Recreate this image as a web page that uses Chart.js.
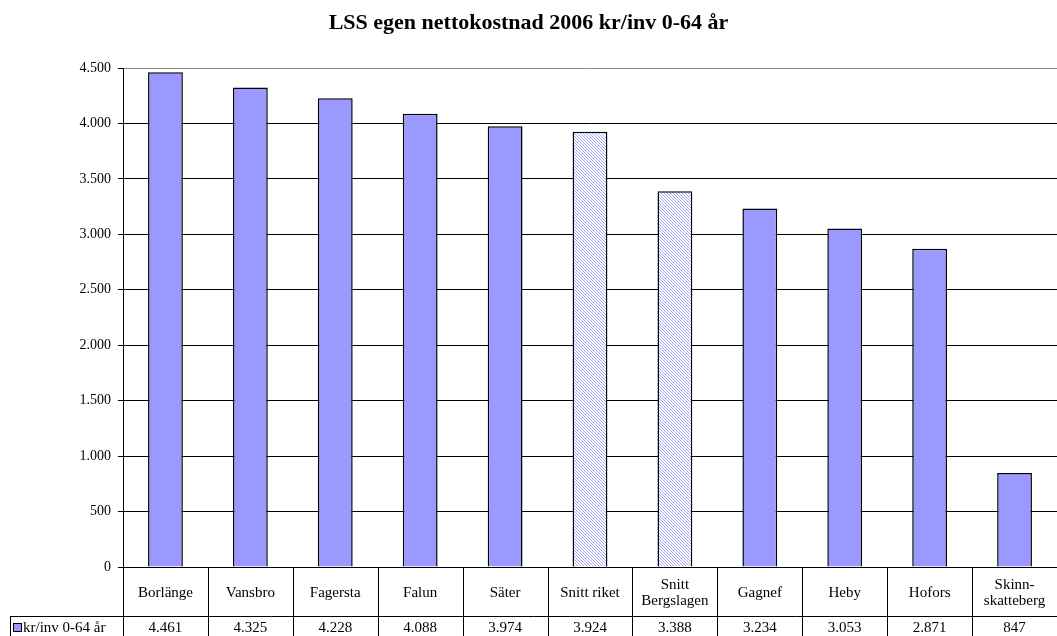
<!DOCTYPE html>
<html lang="sv">
<head>
<meta charset="utf-8">
<title>LSS egen nettokostnad 2006</title>
<script src="https://cdn.jsdelivr.net/npm/chart.js@4/dist/chart.umd.min.js"></script>
<style>
  html, body { margin: 0; padding: 0; background: #fff; overflow: hidden; }
  #wrap { width: 1057px; height: 636px; }
</style>
</head>
<body>
<div id="wrap"><canvas id="lssChart" width="1057" height="636"></canvas></div>
<script>
// Kommuner och jämförelsesnitt (flerradiga etiketter i tabellen)
const kommuner = [
    ['Borlänge'], ['Vansbro'], ['Fagersta'], ['Falun'], ['Säter'],
    ['Snitt riket'], ['Snitt', 'Bergslagen'], ['Gagnef'], ['Heby'], ['Hofors'],
    ['Skinn-', 'skatteberg']
];
// kr/inv 0-64 år
const kostnad = [4461, 4325, 4228, 4088, 3974, 3924, 3388, 3234, 3053, 2871, 847];
// snitt-staplarna ritas randiga
const snittIndex = [5, 6];
const yMin = 0;
const yMax = 4500;
const yStep = 500;

const serieNamn = 'kr/inv 0-64 år';
const FONT = '"Liberation Serif", "DejaVu Serif", serif';
const BAR_COLOR = '#9999ff';

// tusentalsavgränsare med punkt, t.ex. 4.461
function formatNum(v) {
    return String(v).replace(/\B(?=(\d{3})+(?!\d))/g, '.');
}

// randigt mönster för snitt-staplarna
function makeHatch() {
    const c = document.createElement('canvas');
    c.width = 3;
    c.height = 3;
    const g = c.getContext('2d');
    g.fillStyle = '#ffffff';
    g.fillRect(0, 0, 3, 3);
    g.fillStyle = '#a6a6ff';
    for (let i = 0; i < 3; i++) {
        g.fillRect(i, i, 1, 1);
    }
    return g.createPattern(c, 'repeat');
}
const hatch = makeHatch();

const barColors = kostnad.map((v, i) => snittIndex.includes(i) ? hatch : BAR_COLOR);

// datatabell under x-axeln
const dataTable = {
    id: 'dataTable',
    afterDraw(chart) {
        const ctx = chart.ctx;
        const area = chart.chartArea;
        const n = kommuner.length;
        const catW = (area.right - area.left) / n;
        const top = Math.round(area.bottom);
        const rowLine = top + 49;
        const bottom = chart.height;
        const tableLeft = 10;

        ctx.save();
        ctx.strokeStyle = '#000';
        ctx.lineWidth = 1;
        ctx.beginPath();
        for (let i = 0; i <= n; i++) {
            const x = Math.round(area.left + i * catW) + 0.5;
            ctx.moveTo(x, top);
            ctx.lineTo(x, bottom);
        }
        ctx.moveTo(tableLeft, rowLine + 0.5);
        ctx.lineTo(area.right, rowLine + 0.5);
        ctx.moveTo(tableLeft + 0.5, rowLine);
        ctx.lineTo(tableLeft + 0.5, bottom);
        ctx.stroke();

        ctx.fillStyle = '#000';
        ctx.font = '15px ' + FONT;
        ctx.textAlign = 'center';
        ctx.textBaseline = 'middle';
        kommuner.forEach((lines, i) => {
            const cx = chart.scales.x.getPixelForValue(i);
            const midY = (top + rowLine) / 2 + 2;
            const lh = 16;
            const y0 = midY - (lines.length - 1) * lh / 2;
            lines.forEach((txt, j) => ctx.fillText(txt, cx, y0 + j * lh));
            ctx.fillText(formatNum(kostnad[i]), cx, rowLine + 12);
        });

        // förklaring i första kolumnen
        ctx.fillStyle = BAR_COLOR;
        ctx.fillRect(13.5, rowLine + 7.5, 8, 8);
        ctx.strokeRect(13.5, rowLine + 7.5, 8, 8);
        ctx.fillStyle = '#000';
        ctx.textAlign = 'left';
        ctx.fillText(serieNamn, 23, rowLine + 12);
        ctx.restore();
    }
};

new Chart(document.getElementById('lssChart'), {
    type: 'bar',
    data: {
        labels: kommuner,
        datasets: [{
            label: serieNamn,
            data: kostnad,
            backgroundColor: barColors,
            borderColor: '#000',
            borderWidth: 1.5,
            barPercentage: 0.41,
            categoryPercentage: 1.0
        }]
    },
    options: {
        responsive: false,
        animation: false,
        layout: { padding: 0 },
        plugins: {
            legend: { display: false },
            tooltip: { enabled: false },
            title: {
                display: true,
                text: 'LSS egen nettokostnad 2006 kr/inv 0-64 år',
                color: '#000',
                font: { family: FONT, size: 22, weight: 'bold', lineHeight: 1.2 },
                padding: { top: 10, bottom: 31.6 }
            }
        },
        scales: {
            x: {
                ticks: { display: false },
                grid: { display: false },
                border: { display: true, color: '#000', width: 1 },
                afterFit(scale) { scale.height = 69; }
            },
            y: {
                min: yMin,
                max: yMax,
                ticks: {
                    stepSize: yStep,
                    color: '#000',
                    padding: 7,
                    font: { family: FONT, size: 14 },
                    callback: v => formatNum(v)
                },
                grid: {
                    color: ctx => ctx.tick && ctx.tick.value === yMax ? '#8a8a8a' : '#000',
                    lineWidth: 1,
                    tickLength: 5,
                    tickColor: '#000'
                },
                border: { display: true, color: '#000', width: 1 },
                afterFit(scale) { scale.width = 123; }
            }
        }
    },
    plugins: [dataTable]
});
</script>
</body>
</html>
